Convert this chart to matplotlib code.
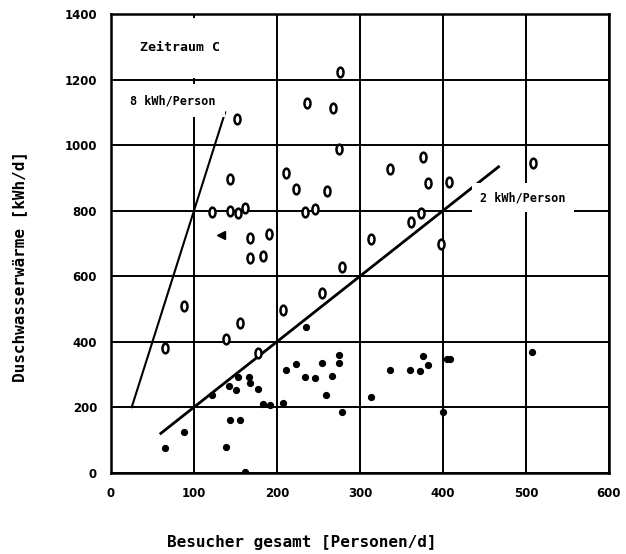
import numpy as np
import matplotlib
matplotlib.use("Agg")
import matplotlib.pyplot as plt
from matplotlib.path import Path
from matplotlib.transforms import Affine2D

# open symbols ("0")
open_x = [276, 236, 267, 152, 275, 336, 376, 508, 211, 143, 382, 407, 223, 260,
          122, 143, 153, 161, 234, 246, 373, 361, 167, 190, 313, 398, 167, 183,
          278, 254, 88, 207, 155, 139, 65, 177]
open_y = [1223, 1130, 1113, 1080, 988, 927, 963, 947, 914, 897, 884, 889, 866, 860,
          797, 799, 792, 809, 795, 805, 792, 766, 716, 729, 713, 698, 656, 663,
          629, 548, 509, 497, 456, 408, 382, 365]

# filled symbols
dot_x = [235, 275, 254, 223, 275, 211, 336, 360, 372, 376, 382, 405, 409, 507,
         153, 166, 167, 142, 151, 177, 122, 234, 246, 266, 259, 207, 183, 191,
         313, 278, 400, 143, 155, 88, 65, 139, 161]
dot_y = [445, 359, 336, 331, 334, 314, 314, 314, 311, 357, 329, 347, 347, 369,
         293, 293, 274, 265, 253, 255, 237, 292, 288, 296, 237, 214, 210, 208,
         230, 184, 186, 161, 161, 124, 76, 78, 3]

# reference lines (kWh per person)
line8_x = [25, 137.5]
line2_x = [60, 467]

xticks = [0, 100, 200, 300, 400, 500, 600]
yticks = [0, 200, 400, 600, 800, 1000, 1200, 1400]

font = {"family": "DejaVu Sans Mono", "weight": "bold"}

fig = plt.figure(figsize=(6.26, 5.54), dpi=100)
ax = fig.add_axes([0.1773, 0.1468, 0.7955, 0.8276])

ax.set_xlim(0, 600)
ax.set_ylim(0, 1400)
ax.set_xticks(xticks)
ax.set_yticks(yticks)
ax.grid(True, color="black", linewidth=1.4, zorder=1)
ax.set_axisbelow(True)
for s in ax.spines.values():
    s.set_linewidth(1.8)
ax.tick_params(length=0, pad=10)
for lab in ax.get_xticklabels() + ax.get_yticklabels():
    lab.set_fontfamily("DejaVu Sans")
    lab.set_fontweight("bold")
    lab.set_fontsize(8.5)

ell = Path.unit_circle().transformed(Affine2D().scale(0.62, 1.0))

ax.plot(line8_x, [8 * v for v in line8_x], color="black", lw=1.5, zorder=2)
ax.plot(line2_x, [2 * v for v in line2_x], color="black", lw=2.0, zorder=2)

ax.plot(open_x, open_y, ls="none", marker=ell, ms=7, mfc="white", mec="black",
        mew=1.8, zorder=3)
ax.plot(dot_x, dot_y, ls="none", marker="o", ms=4.2, color="black", zorder=3)
# smeared symbol
ax.plot([133], [727], ls="none", marker="<", ms=6, color="black", zorder=3)

ax.text(35, 1297, "Zeitraum C", fontsize=9.5, va="center", ha="left",
        bbox=dict(facecolor="white", edgecolor="none", pad=17), zorder=4, **font)
ax.text(23, 1136, "8 kWh/Person", fontsize=8.5, va="center", ha="left",
        bbox=dict(facecolor="white", edgecolor="none", pad=7), zorder=4, **font)
ax.text(445, 840, "2 kWh/Person", fontsize=8.5, va="center", ha="left",
        bbox=dict(facecolor="white", edgecolor="none", pad=6), zorder=4, **font)

ax.set_xlabel("Besucher gesamt [Personen/d]", fontsize=11.5, **font)
ax.xaxis.set_label_coords(0.384, -0.136)
ax.set_ylabel("Duschwasserwärme [kWh/d]", fontsize=11.5, **font)
ax.yaxis.set_label_coords(-0.168, 0.449)

fig.savefig("out.png", dpi=100)
